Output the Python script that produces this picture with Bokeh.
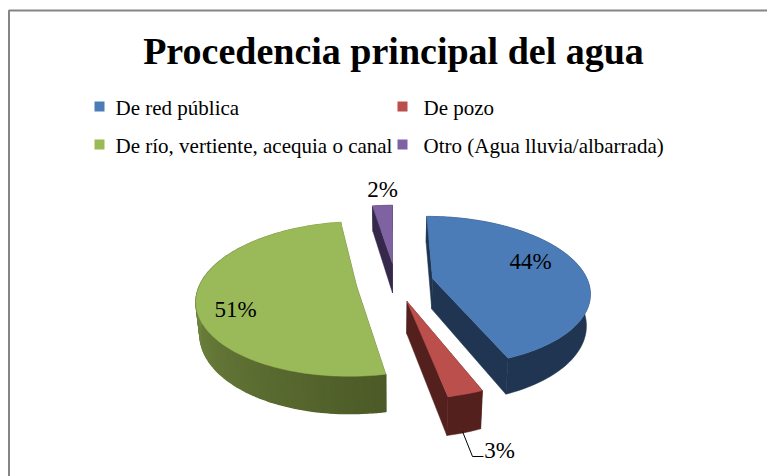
import math
from bokeh.plotting import figure
from bokeh.models import Range1d
from bokeh.core.properties import value
from bokeh.embed import file_html
from bokeh.resources import INLINE

title_text = "Procedencia principal del agua"
categories = ["De red pública", "De pozo", "De río, vertiente, acequia o canal", "Otro (Agua lluvia/albarrada)"]
shares = [43.9, 3.0, 50.6, 2.49]
top_colors = ["#4b7cb7", "#bb4f4c", "#9aba59", "#7f62a1"]
wall_colors = ["#1f3551", "#54201e", "#4c5a27", "#35284a"]

# layout: per-slice explosion (px across, depth units), projection constants
explode = [(40.7, -0.10), (14.0, 0.20), (-36.0, 0.0), (0.0, -0.315)]
CX, CY, R, RY, K, D, SHRINK = 392, 285.4, 157, 75, 0.17, 31, 0.98
FONT = value("Liberation Serif")

p = figure(width=767, height=476, output_backend="svg", toolbar_location=None,
           x_range=Range1d(0, 767), y_range=Range1d(476, 0),
           x_axis_type=None, y_axis_type=None, min_border=0, outline_line_color=None)
p.grid.visible = False
p.background_fill_color = "white"


def project(X, V, bottom=False):
    s = 1 / (1 - K * V)
    x = CX + X * s
    y = CY + RY * V * s
    if bottom:
        x = CX + (x - CX) * SHRINK
        y += D * s
    return x, y


def lerp_color(a, b, t):
    ca = [int(a[i:i + 2], 16) for i in (1, 3, 5)]
    cb = [int(b[i:i + 2], 16) for i in (1, 3, 5)]
    return "#%02x%02x%02x" % tuple(round(u + (w - u) * t) for u, w in zip(ca, cb))


# slice angles from the values (clockwise from the top, last slice ends at 0)
total = sum(shares)
spans = []
start = 0.0
for v in shares:
    sweep = 2 * math.pi * v / total
    spans.append((start, start + sweep))
    start += sweep

# border of the pasted picture
p.line([8.5, 8.5, 767], [476, 10, 10], line_color="#858585", line_width=2)

for i in [3, 0, 2, 1]:
    a0, a1 = spans[i]
    ox, ov = explode[i]
    n = max(6, int((a1 - a0) * 40))
    angles = [a0 + (a1 - a0) * j / n for j in range(n + 1)]
    rim = [(ox + R * math.sin(t), ov - math.cos(t)) for t in angles]
    apex = (ox, ov)

    # radial walls
    for end in (rim[0], rim[-1]):
        tx = [project(*apex)[0], project(*end)[0], project(*end, True)[0], project(*apex, True)[0]]
        ty = [project(*apex)[1], project(*end)[1], project(*end, True)[1], project(*apex, True)[1]]
        p.patch(tx, ty, fill_color=wall_colors[i], line_color=wall_colors[i], line_width=0.5)

    # outer wall: one piece, except the green one, in strips for its gradient
    if i == 2:
        for j in range(n):
            q0, q1 = rim[j], rim[j + 1]
            col = lerp_color("#4c5a27", "#8fab54", j / (n - 1))
            tx = [project(*q0)[0], project(*q1)[0], project(*q1, True)[0], project(*q0, True)[0]]
            ty = [project(*q0)[1], project(*q1)[1], project(*q1, True)[1], project(*q0, True)[1]]
            p.patch(tx, ty, fill_color=col, line_color=col, line_width=1.5)
    else:
        tx = [project(*q)[0] for q in rim] + [project(*q, True)[0] for q in reversed(rim)]
        ty = [project(*q)[1] for q in rim] + [project(*q, True)[1] for q in reversed(rim)]
        p.patch(tx, ty, fill_color=wall_colors[i], line_color=wall_colors[i], line_width=0.5)

    # top face
    pts = [apex] + rim
    p.patch([project(*q)[0] for q in pts], [project(*q)[1] for q in pts],
            fill_color=top_colors[i], line_color=top_colors[i], line_width=0.5)

# leader of the small slice
p.line([462, 472, 483], [431, 456, 456], line_color="black", line_width=1)

# percentage labels
label_x = [530, 499, 235, 382]
label_y = [261, 450, 309, 189]
p.text(label_x, label_y, text=[f"{round(v)}%" for v in shares], text_font=FONT,
       text_font_size="23px", text_align="center", text_baseline="middle", text_color="black")

# title
p.text([393], [50], text=[title_text], text_font=FONT, text_font_style="bold",
       text_font_size="38px", text_align="center", text_baseline="middle", text_color="black")

# legend
legend_x = [99, 402, 99, 402]
legend_y = [106, 106, 144, 144]
p.scatter(legend_x, legend_y, marker="square", size=10, fill_color=top_colors, line_color=None)
p.text([x + 16 if x < 200 else x + 21 for x in legend_x], [y + 1 for y in legend_y], text=categories,
       text_font=FONT, text_font_size="21px", text_align="left", text_baseline="middle", text_color="black")

open("out.html", "w").write(file_html(p, INLINE))
